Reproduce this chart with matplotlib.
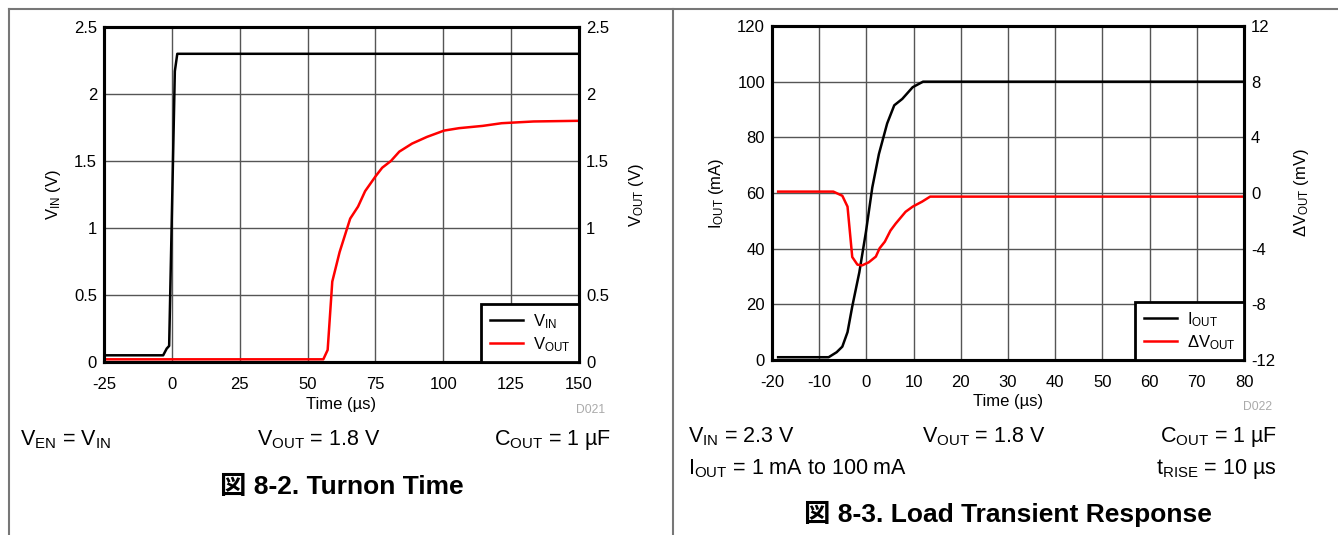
import numpy as np
import matplotlib
matplotlib.use("Agg")
import matplotlib.pyplot as plt
from matplotlib.lines import Line2D

plt.rcParams['font.family'] = ['Liberation Sans', 'Noto Sans CJK JP', 'DejaVu Sans']
plt.rcParams['mathtext.default'] = 'regular'
plt.rcParams['axes.unicode_minus'] = False

## Data: turn-on time (left)
t_vin = [-25, -3.2, -1.9, -1.0, 1.1, 2.0, 150]
vin = [0.05, 0.05, 0.10, 0.12, 2.17, 2.30, 2.30]
t_vout = [-25, 55.8, 57.4, 59.1, 61.8, 65.7, 68.6, 71.2, 75.2, 77.5, 80.7,
          83.8, 88.5, 94.0, 100.3, 105.8, 114.5, 121.5, 133.3, 150]
vout = [0.02, 0.02, 0.09, 0.60, 0.82, 1.07, 1.16, 1.275, 1.39, 1.45, 1.50,
        1.57, 1.63, 1.68, 1.727, 1.745, 1.762, 1.782, 1.795, 1.80]

## Data: load transient (right)
t_iout = [-18.7, -8.0, -6.3, -5.1, -4.0, -3.0, -1.5, -0.1, 1.25, 2.65, 4.4,
          5.9, 7.6, 9.8, 12.0, 80]
iout = [1.0, 1.0, 2.8, 4.8, 10.0, 19.2, 31.5, 46.0, 62.0, 74.0, 85.0,
        91.5, 93.8, 98.0, 100.0, 100.0]
t_dv = [-18.7, -7.0, -5.1, -4.0, -3.0, -1.9, -0.9, 0.5, 2.0, 2.8, 3.9, 5.1,
        6.2, 8.3, 9.8, 11.8, 13.5, 80]
dv = [0.1, 0.1, -0.2, -0.98, -4.6, -5.15, -5.2, -4.98, -4.57, -3.97, -3.5,
      -2.7, -2.2, -1.35, -0.98, -0.62, -0.26, -0.26]

xt_left = [-25, 0, 25, 50, 75, 100, 125, 150]
yt_left = [0, 0.5, 1, 1.5, 2, 2.5]
yt_left_lbl = ['0', '0.5', '1', '1.5', '2', '2.5']
xt_right = [-20, -10, 0, 10, 20, 30, 40, 50, 60, 70, 80]
yt_iout = [0, 20, 40, 60, 80, 100, 120]
yt_dv = [-12, -8, -4, 0, 4, 8, 12]

W, H = 1338, 535
fig = plt.figure(figsize=(W / 100, H / 100), dpi=100)


def px(x0, y0, x1, y1):
    return [x0 / W, 1 - y1 / H, (x1 - x0) / W, (y1 - y0) / H]


def style(ax, ax2):
    for a in (ax, ax2):
        for s in a.spines.values():
            s.set_linewidth(2.2)
        a.tick_params(length=0, labelsize=12)
    ax.tick_params(axis='x', pad=11)
    ax.tick_params(axis='y', pad=5)
    ax2.tick_params(axis='y', pad=5)
    ax.grid(True, color='#555555', linewidth=1)
    ax.set_axisbelow(True)


def legend(ax2, handles, labels):
    leg = ax2.legend(handles, labels, loc='lower right', bbox_to_anchor=(1, 0),
                     borderaxespad=0, fancybox=False, edgecolor='black',
                     framealpha=1, fontsize=12, handlelength=2.0,
                     handletextpad=0.6, labelspacing=0.25, borderpad=0.5)
    leg.get_frame().set_linewidth(2)


# ---- left panel
ax = fig.add_axes(px(104, 27, 579, 362))
ax2 = ax.twinx()
l1, = ax.plot(t_vin, vin, color='black', lw=1.8)
l2, = ax2.plot(t_vout, vout, color='#ff0000', lw=1.8)
ax.set_xlim(-25, 150)
ax.set_ylim(0, 2.5)
ax2.set_ylim(0, 2.5)
ax.set_xticks(xt_left)
ax.set_yticks(yt_left, yt_left_lbl)
ax2.set_yticks(yt_left, yt_left_lbl)
style(ax, ax2)
ax.set_xlabel('Time (µs)', fontsize=12)
ax.xaxis.set_label_coords(0.5, -0.104)
ax.set_ylabel('V$_{IN}$ (V)', fontsize=12)
ax.yaxis.set_label_coords(-0.087, 0.5)
ax2.set_ylabel('V$_{OUT}$ (V)', fontsize=12)
ax2.yaxis.set_label_coords(1.100, 0.5)
legend(ax2, [l1, l2], ['V$_{IN}$', 'V$_{OUT}$'])

# ---- right panel
bx = fig.add_axes(px(772, 26, 1244, 360))
bx2 = bx.twinx()
m1, = bx.plot(t_iout, iout, color='black', lw=1.8)
m2, = bx2.plot(t_dv, dv, color='#ff0000', lw=1.8)
bx.set_xlim(-20, 80)
bx.set_ylim(0, 120)
bx2.set_ylim(-12, 12)
bx.set_xticks(xt_right)
bx.set_yticks(yt_iout)
bx2.set_yticks(yt_dv)
style(bx, bx2)
bx.set_xlabel('Time (µs)', fontsize=12)
bx.xaxis.set_label_coords(0.5, -0.102)
bx.set_ylabel('I$_{OUT}$ (mA)', fontsize=12)
bx.yaxis.set_label_coords(-0.097, 0.5)
bx2.set_ylabel('ΔV$_{OUT}$ (mV)', fontsize=12)
bx2.yaxis.set_label_coords(1.1025, 0.5)
legend(bx2, [m1, m2], ['I$_{OUT}$', 'ΔV$_{OUT}$'])

# ---- footnotes and captions
fs = 15.5
fig.text(605 / W, 1 - 410 / H, 'D021', color='#aaaaaa', fontsize=8.7, ha='right', va='center')
fig.text(1272 / W, 1 - 407 / H, 'D022', color='#aaaaaa', fontsize=8.7, ha='right', va='center')

fig.text(20 / W, 1 - 440 / H, 'V$_{EN}$ = V$_{IN}$', fontsize=fs, va='center')
fig.text(257 / W, 1 - 440 / H, 'V$_{OUT}$ = 1.8 V', fontsize=fs, va='center')
fig.text(611 / W, 1 - 440 / H, 'C$_{OUT}$ = 1 µF', fontsize=fs, va='center', ha='right')
fig.text(342 / W, 1 - 487 / H, '図 8-2. Turnon Time', fontsize=19, fontweight='bold',
         ha='center', va='center')

fig.text(688 / W, 1 - 437 / H, 'V$_{IN}$ = 2.3 V', fontsize=fs, va='center')
fig.text(922 / W, 1 - 437 / H, 'V$_{OUT}$ = 1.8 V', fontsize=fs, va='center')
fig.text(1277 / W, 1 - 437 / H, 'C$_{OUT}$ = 1 µF', fontsize=fs, va='center', ha='right')
fig.text(688 / W, 1 - 469 / H, 'I$_{OUT}$ = 1 mA to 100 mA', fontsize=fs, va='center')
fig.text(1277 / W, 1 - 469 / H, 't$_{RISE}$ = 10 µs', fontsize=fs, va='center', ha='right')
fig.text(1008 / W, 1 - 514 / H, '図 8-3. Load Transient Response', fontsize=19,
         fontweight='bold', ha='center', va='center')

# ---- page frame
fc = '#777777'
ytop = 1 - 8.5 / H
fig.add_artist(Line2D([8.5 / W, 1], [ytop, ytop], color=fc, lw=1.5))
fig.add_artist(Line2D([8.5 / W, 8.5 / W], [0, ytop], color=fc, lw=1.5))
fig.add_artist(Line2D([673.3 / W, 673.3 / W], [0, ytop], color=fc, lw=1.5))

fig.savefig('out.png', dpi=100)
